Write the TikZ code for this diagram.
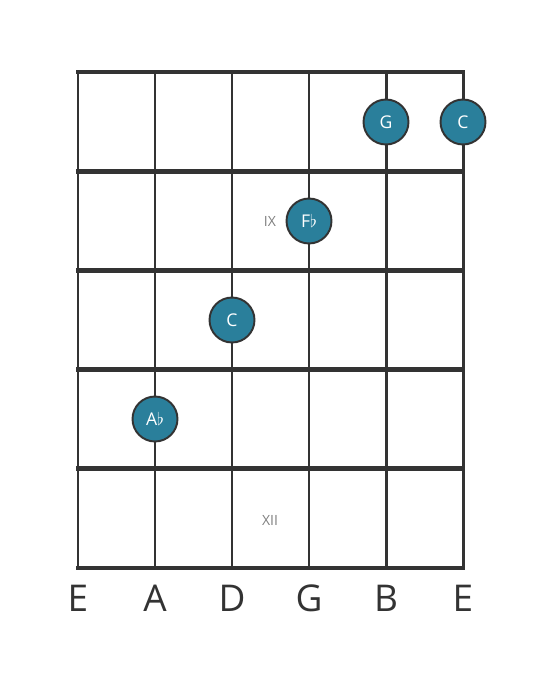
\documentclass[tikz,border=0pt]{standalone}
\usepackage{fontspec}
\setmainfont{Open Sans}
\definecolor{darkline}{HTML}{333333}
\definecolor{notefill}{HTML}{2A7F9B}
\definecolor{fretlabel}{HTML}{808080}

\begin{document}
\begin{tikzpicture}[
    x=0.02cm, y=-0.02cm,
    fretline/.style = {draw=darkline, line width=2.8pt, line cap=rect},
    stringline/.style = {draw=darkline, line width=1.7pt},
    note/.style = {circle, fill=notefill, draw=darkline, line width=1.1pt, minimum size=0.9cm, inner sep=0pt, text=white, font=\fontsize{10}{12}\selectfont},
    fretnum/.style = {text=fretlabel, font=\fontsize{8}{10}\selectfont},
    stringname/.style = {text=darkline, font=\fontsize{21}{24}\selectfont}
  ]
  \useasboundingbox (0,0) rectangle (559,682);
  % strings
  \foreach \s/\name [count=\i from 0] in {E/e1, A/a, D/d, G/g, B/b, E/e2} {
    \path[stringline] (78+77*\i,72) -- (78+77*\i,568);
    \node (\name) [stringname] at (78+77*\i,598) {\s};
  }
  % frets
  \foreach \f in {0,...,5}
    \path[fretline] (78,72+99.2*\f) -- (463,72+99.2*\f);
  % fret markers
  \node (ix) [fretnum] at (270,221) {IX};
  \node (xii) [fretnum] at (270,520) {XII};
  % notes
  \node (noteG) [note] at (386,122) {G};
  \node (noteC1) [note] at (463,122) {C};
  \node (noteFb) [note] at (309,221) {F$\flat$};
  \node (noteC2) [note] at (232,320) {C};
  \node (noteAb) [note] at (155,419) {A$\flat$};
\end{tikzpicture}
\end{document}
